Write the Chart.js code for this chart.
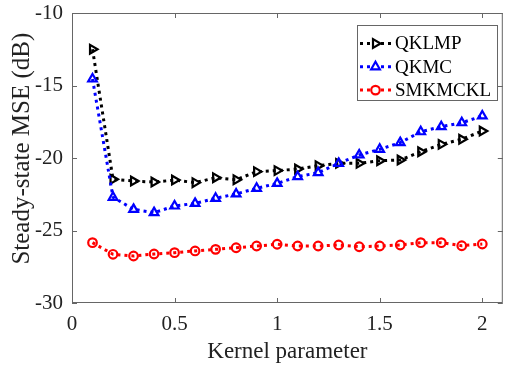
<!DOCTYPE html>
<html><head><meta charset="utf-8">
<script src="https://cdn.jsdelivr.net/npm/chart.js@4.4.1/dist/chart.umd.min.js"></script>
<style>html,body{margin:0;padding:0;background:#fff;}#wrap{width:510px;height:369px;}</style>
</head><body><div id="wrap"><canvas id="c" width="510" height="369"></canvas></div>
<script>
const kernelParams = [0.1,0.2,0.3,0.4,0.5,0.6,0.7,0.8,0.9,1.0,1.1,1.2,1.3,1.4,1.5,1.6,1.7,1.8,1.9,2.0];
const qklmp   = [-12.5,-21.47,-21.59,-21.66,-21.52,-21.7,-21.36,-21.5,-20.94,-20.87,-20.76,-20.53,-20.37,-20.37,-20.19,-20.14,-19.57,-19.06,-18.71,-18.14];
const qkmc    = [-14.55,-22.71,-23.54,-23.77,-23.31,-23.13,-22.78,-22.48,-22.09,-21.75,-21.29,-21.01,-20.37,-19.79,-19.4,-18.94,-18.19,-17.84,-17.57,-17.1];
const smkmckl = [-25.84,-26.64,-26.76,-26.62,-26.53,-26.41,-26.3,-26.19,-26.07,-25.95,-26.07,-26.07,-26.0,-26.12,-26.07,-26.0,-25.84,-25.84,-26.05,-25.93];
const seriesNames = ['QKLMP','QKMC','SMKMCKL'];
const xTickValues = [0,0.5,1,1.5,2];
const yTickValues = [-30,-25,-20,-15,-10];

const SERIF = '"Liberation Serif","Times New Roman",serif';
Chart.defaults.font.family = SERIF;
Chart.defaults.color = '#222';

const toPts = arr => kernelParams.map((x,i)=>({x:x,y:arr[i]}));

function ds(label, arr, color, style, rot, radius, order){
  return {label:label, data:toPts(arr), borderColor:color, backgroundColor:'rgba(0,0,0,0)',
    borderWidth:3, borderDash:[3,4], borderCapStyle:'butt', tension:0,
    pointStyle:style, rotation:rot, pointRadius:radius, pointHoverRadius:radius,
    pointBorderWidth:2.2, pointBorderColor:color, pointBackgroundColor:'rgba(0,0,0,0)', order:order};
}

const framePlugin = {
  id:'frame',
  beforeDatasetsDraw(chart){
    const {ctx, chartArea:a, scales:{x,y}} = chart;
    ctx.save();
    ctx.strokeStyle = '#666'; ctx.lineWidth = 1;
    ctx.strokeRect(a.left+0.5, a.top+0.5, a.right-a.left-1, a.bottom-a.top-1);
    ctx.beginPath();
    xTickValues.forEach(v=>{
      const px = Math.round(x.getPixelForValue(v))+0.5;
      ctx.moveTo(px,a.bottom); ctx.lineTo(px,a.bottom-5);
      ctx.moveTo(px,a.top); ctx.lineTo(px,a.top+5);
    });
    yTickValues.forEach(v=>{
      const py = Math.round(y.getPixelForValue(v))+0.5;
      ctx.moveTo(a.left,py); ctx.lineTo(a.left+5,py);
      ctx.moveTo(a.right,py); ctx.lineTo(a.right-5,py);
    });
    ctx.stroke();
    ctx.restore();
  }
};

const legendPlugin = {
  id:'boxLegend',
  afterDraw(chart){
    const ctx = chart.ctx;
    const bx=357, by=25, bw=140, bh=75;
    ctx.save();
    ctx.fillStyle='#fff'; ctx.fillRect(bx,by,bw,bh);
    ctx.strokeStyle='#666'; ctx.lineWidth=1; ctx.strokeRect(bx+0.5,by+0.5,bw,bh);
    chart.data.datasets.forEach((d,i)=>{
      const cy = by + 18.5 + i*23.3;
      ctx.save();
      ctx.strokeStyle=d.borderColor; ctx.lineWidth=3; ctx.setLineDash([3,4]);
      ctx.beginPath(); ctx.moveTo(360,cy); ctx.lineTo(391,cy); ctx.stroke();
      ctx.restore();
      ctx.save();
      ctx.strokeStyle=d.borderColor; ctx.fillStyle='#fff'; ctx.lineWidth=2.2;
      Chart.helpers.drawPoint(ctx,{pointStyle:d.pointStyle, rotation:d.rotation, radius:d.pointRadius, borderWidth:2.2}, 375.5, cy);
      ctx.restore();
      ctx.fillStyle='#000'; ctx.font='19px '+SERIF;
      ctx.textBaseline='middle'; ctx.textAlign='left';
      ctx.fillText(d.label, 395, cy+1);
    });
    ctx.restore();
  }
};

new Chart(document.getElementById('c'), {
  type:'line',
  data:{datasets:[
    ds(seriesNames[0], qklmp, '#000000', 'triangle', 90, 5, 3),
    ds(seriesNames[1], qkmc, '#0000ff', 'triangle', 0, 5, 2),
    ds(seriesNames[2], smkmckl, '#ff0000', 'circle', 0, 4.3, 1)
  ]},
  options:{
    responsive:false, animation:false, devicePixelRatio:1,
    layout:{padding:{top:13,right:-3,left:0,bottom:0}},
    plugins:{legend:{display:false}, tooltip:{enabled:false}},
    scales:{
      x:{type:'linear', min:0, max:2.1,
        grid:{display:false, drawTicks:false}, border:{display:false},
        ticks:{padding:9, font:{family:SERIF, size:21}, color:'#222', autoSkip:false, maxRotation:0, callback:v=>String(v)},
        afterBuildTicks:s=>{s.ticks = xTickValues.map(v=>({value:v}));},
        afterFit:s=>{s.height = 66; s.paddingLeft = 0; s.paddingRight = 0;},
        title:{display:true, text:'Kernel parameter', font:{family:SERIF, size:23}, color:'#222', padding:{top:0,bottom:3}}
      },
      y:{type:'linear', min:-30, max:-10,
        grid:{display:false, drawTicks:false}, border:{display:false},
        ticks:{padding:9, font:{family:SERIF, size:21}, color:'#222', callback:v=>String(v)},
        afterBuildTicks:s=>{s.ticks = yTickValues.map(v=>({value:v}));},
        afterFit:s=>{s.width = 72; s.paddingTop = 0; s.paddingBottom = 0;},
        title:{display:true, text:'\u00a0\u00a0\u00a0Steady-state MSE (dB)', font:{family:SERIF, size:25}, color:'#222', padding:{top:7,bottom:0}}
      }
    }
  },
  plugins:[framePlugin, legendPlugin]
});
</script></body></html>
